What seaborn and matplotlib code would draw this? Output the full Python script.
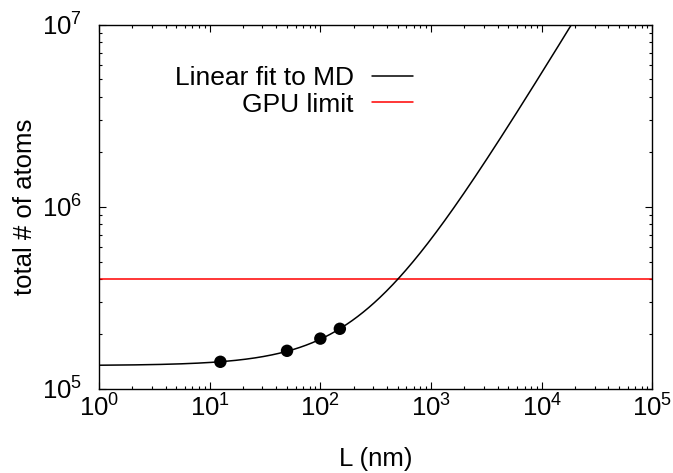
import numpy as np
import pandas as pd
import matplotlib
matplotlib.use("Agg")
import matplotlib.pyplot as plt
from matplotlib.ticker import LogLocator, NullFormatter
import seaborn as sns

# MD system sizes (domain length L in nm) and total atom counts
L_md = [12.5, 50, 100, 150]
atoms_md = [1.41e5, 1.62e5, 1.89e5, 2.14e5]

# linear fit N = a + b*L to the MD points
fit_intercept = 1.345e5
fit_slope = 531.0

# largest system that fits on the GPU
gpu_limit = 4.0e5

x_range = [1, 1e5]
y_range = [1e5, 1e7]

sns.set_style("ticks")
plt.rcParams["font.family"] = ["Liberation Sans", "DejaVu Sans"]
plt.rcParams["mathtext.fontset"] = "custom"
plt.rcParams["mathtext.rm"] = "Liberation Sans"
plt.rcParams["mathtext.it"] = "Liberation Sans:italic"
plt.rcParams["mathtext.bf"] = "Liberation Sans:bold"
for key in ("text.color", "axes.labelcolor", "xtick.color", "ytick.color",
            "xtick.labelcolor", "ytick.labelcolor", "axes.edgecolor"):
    plt.rcParams[key] = "black"

fig = plt.figure(figsize=(6.73, 4.73), dpi=100)
ax = fig.add_axes([0.147, 0.1776, 0.8225, 0.7706])

L_grid = np.logspace(np.log10(x_range[0]), np.log10(x_range[1]), 600)
fit_df = pd.DataFrame({"L": L_grid, "N": fit_intercept + fit_slope * L_grid})
md_df = pd.DataFrame({"L": L_md, "N": atoms_md})
gpu_df = pd.DataFrame({"L": x_range, "N": [gpu_limit, gpu_limit]})

sns.lineplot(data=fit_df, x="L", y="N", ax=ax, color="black", lw=1.1,
             label="Linear fit to MD", zorder=3)
sns.lineplot(data=gpu_df, x="L", y="N", ax=ax, color="#ff0000", lw=1.1,
             label="GPU limit", zorder=2)
sns.scatterplot(data=md_df, x="L", y="N", ax=ax, color="black", s=80,
                edgecolor="none", zorder=4, legend=False)

ax.set_xscale("log")
ax.set_yscale("log")
ax.set_xlim(*x_range)
ax.set_ylim(*y_range)

ax.xaxis.set_major_locator(LogLocator(base=10, numticks=10))
ax.yaxis.set_major_locator(LogLocator(base=10, numticks=10))
for axis in (ax.xaxis, ax.yaxis):
    axis.set_minor_locator(LogLocator(base=10, subs=np.arange(2, 10), numticks=20))
    axis.set_minor_formatter(NullFormatter())

ax.tick_params(which="both", direction="in", top=True, right=True, color="black",
               labelcolor="black", width=0.8)
ax.tick_params(which="major", length=5, labelsize=18.5)
ax.tick_params(which="minor", length=2.5)
ax.tick_params(axis="x", which="major", pad=4)
ax.tick_params(axis="y", which="major", pad=12)

for s in ax.spines.values():
    s.set_visible(True)
    s.set_color("black")
    s.set_linewidth(1.0)

ax.set_xlabel("L (nm)", fontsize=18.5, labelpad=18)
ax.set_ylabel("total # of atoms", fontsize=18.5, labelpad=4)

leg = ax.legend(loc="upper right", bbox_to_anchor=(413 / 673, 1 - 66 / 473),
                bbox_transform=fig.transFigure, frameon=False, markerfirst=False,
                fontsize=19, handlelength=1.55, handletextpad=0.7,
                labelspacing=0.1, borderpad=0, borderaxespad=0)
for t in leg.get_texts():
    t.set_color("black")

fig.savefig("out.png", dpi=100)
